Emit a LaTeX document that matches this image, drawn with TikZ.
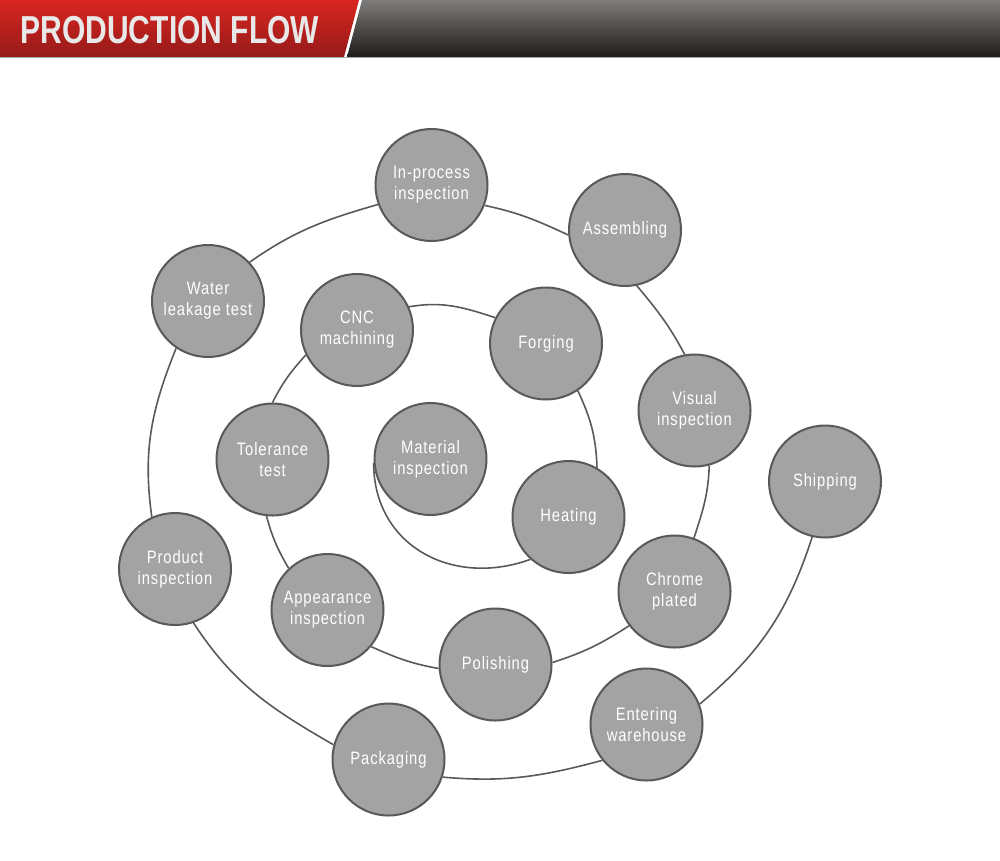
\documentclass[tikz,border=0pt]{standalone}
\usepackage{fontspec}
\setmainfont{Liberation Sans}
\newfontfamily\stepfont[FakeStretch=0.82,LetterSpace=5]{Liberation Sans}
\newfontfamily\titlefont[FakeStretch=0.77]{Liberation Sans}
\usepackage{tikz}
\usetikzlibrary{backgrounds}
\definecolor{stepgray}{HTML}{A3A3A3}
\definecolor{stepedge}{HTML}{595959}
\definecolor{redtop}{HTML}{DA2620}
\definecolor{redbottom}{HTML}{941A1A}
\definecolor{graytop}{HTML}{7E7C7A}
\definecolor{graybottom}{HTML}{1E1C1A}
\definecolor{titletext}{HTML}{E8E8E8}
\begin{document}
\begin{tikzpicture}[x=1pt,y=1pt,
  step circle/.style={circle,draw=stepedge,line width=2pt,fill=stepgray,
    minimum size=112pt,inner sep=0pt,align=center,text=white,
    font={\stepfont\fontsize{18}{21}\selectfont}},
  flow line/.style={draw=stepedge,line width=1.6pt}]
\useasboundingbox (0,0) rectangle (1000,-860);
% header band
\shade[top color=redtop,bottom color=redbottom] (0,0) -- (359,0) -- (344,-57) -- (0,-57) -- cycle;
\shade[top color=graytop,bottom color=graybottom] (362,0) -- (1000,0) -- (1000,-57) -- (347,-57) -- cycle;
\draw[color=gray!70,line width=1.2pt] (0,-57.5) -- (1000,-57.5);
\node[anchor=base west,text=titletext,font={\titlefont\bfseries\fontsize{39}{40}\selectfont}] (title) at (17,-43) {PRODUCTION FLOW};
% steps of the spiral
\node[step circle] (mat) at (430.5,-459) {Material\\inspection};
\node[step circle] (heat) at (568.5,-517) {Heating};
\node[step circle] (forg) at (546,-343.5) {Forging};
\node[step circle] (cnc) at (357,-330) {CNC\\machining};
\node[step circle] (tol) at (272.5,-459.5) {Tolerance\\test};
\node[step circle] (app) at (327.5,-610) {Appearance\\inspection};
\node[step circle] (pol) at (495.5,-664.5) {Polishing};
\node[step circle] (chr) at (674.5,-591.5) {Chrome\\plated};
\node[step circle] (vis) at (694.5,-410.5) {Visual\\inspection};
\node[step circle] (asm) at (625,-230) {Assembling};
\node[step circle] (inp) at (431.5,-185) {In-process\\inspection};
\node[step circle] (wat) at (208,-301) {Water\\leakage test};
\node[step circle] (prd) at (175,-569) {Product\\inspection};
\node[step circle] (pkg) at (388.5,-759.5) {Packaging};
\node[step circle] (ent) at (646.5,-724.5) {Entering\\warehouse};
\node[step circle] (shp) at (825,-481.5) {Shipping};
% spiral line behind the circles
\begin{scope}[on background layer]
\draw[flow line] (mat.184) to[out=270,in=200,looseness=1.15] (heat.228);
\draw[flow line] (heat.60) to[out=92,in=295] (forg.304);
\draw[flow line] (forg.153) to[out=162,in=10] (cnc.24);
\draw[flow line] (cnc.206) to[out=228,in=63] (tol.90);
\draw[flow line] (tol.264) to[out=285,in=120] (app.133);
\draw[flow line] (app.320) to[out=336,in=170] (pol.184);
\draw[flow line] (pol.2) to[out=18,in=213] (chr.217);
\draw[flow line] (chr.70) to[out=72,in=268] (vis.285);
\draw[flow line] (vis.100) to[out=118,in=310] (asm.282);
\draw[flow line] (asm.185) to[out=155,in=348] (inp.339);
\draw[flow line] (inp.200) to[out=196,in=35] (wat.43);
\draw[flow line] (wat.236) to[out=248,in=98] (prd.114);
\draw[flow line] (prd.289) to[out=303,in=150] (pkg.165);
\draw[flow line] (pkg.342) to[out=355,in=195] (ent.219);
\draw[flow line] (ent.21) to[out=40,in=252] (shp.257);
\end{scope}
\end{tikzpicture}
\end{document}
